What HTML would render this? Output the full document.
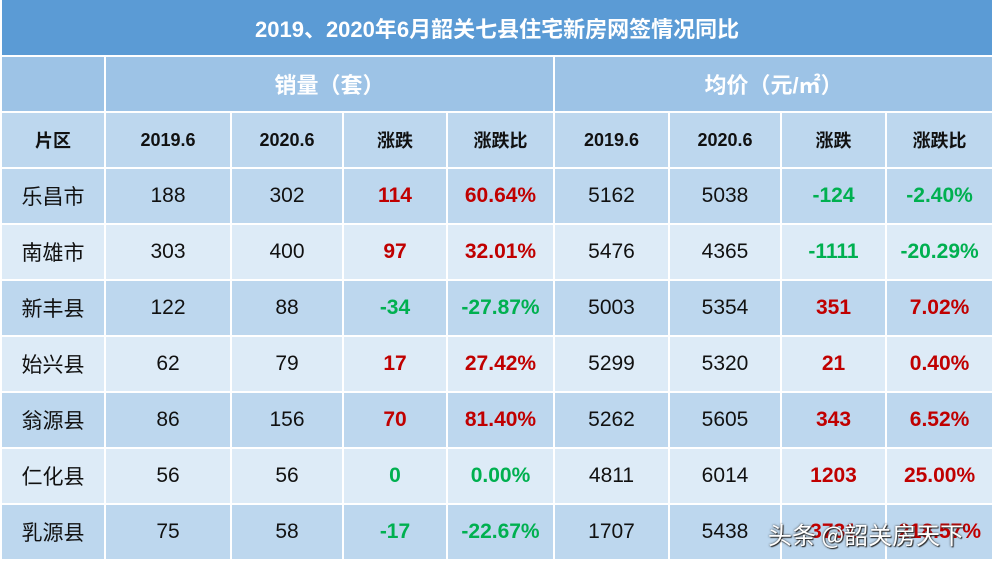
<!DOCTYPE html>
<html><head><meta charset="utf-8"><style>
body{margin:0;width:992px;height:561px;overflow:hidden;background:#fff;font-family:"Liberation Sans","Noto Sans CJK SC",sans-serif;}
table{border-collapse:collapse;table-layout:fixed;width:992px;position:absolute;left:0;top:0}
td{border:2px solid #fff;text-align:center;padding:0;font-size:21px;color:#111;height:54px}
.t td{background:#5b9bd5;color:#fff;font-weight:bold;font-size:22px;height:55px;border-top:0}
.s td{background:#9dc3e6;color:#fff;font-weight:bold;font-size:22px;height:54px}
.h td{background:#bdd7ee;font-weight:bold;font-size:18px;height:54px}
.a td{background:#bdd7ee}.b td{background:#ddebf7}
.r{color:#c00000;font-weight:bold}.g{color:#00b050;font-weight:bold}
.wm{position:absolute;left:768px;top:516px;font-size:24px;color:#fff;text-shadow:0 0 2px #333,1px 1px 1px #222;font-family:"Noto Sans CJK SC",sans-serif}
</style></head><body>
<table>
<colgroup><col style="width:104px"><col style="width:126px"><col style="width:112px"><col style="width:104px"><col style="width:107px"><col style="width:115px"><col style="width:112px"><col style="width:105px"><col style="width:107px"></colgroup>
<tr class="t"><td colspan="9">2019、2020年6月韶关七县住宅新房网签情况同比</td></tr>
<tr class="s"><td></td><td colspan="4">销量（套）</td><td colspan="4">均价（元/㎡）</td></tr>
<tr class="h"><td>片区</td><td>2019.6</td><td>2020.6</td><td>涨跌</td><td>涨跌比</td><td>2019.6</td><td>2020.6</td><td>涨跌</td><td>涨跌比</td></tr>
<tr class="a"><td>乐昌市</td><td>188</td><td>302</td><td class="r">114</td><td class="r">60.64%</td><td>5162</td><td>5038</td><td class="g">-124</td><td class="g">-2.40%</td></tr>
<tr class="b"><td>南雄市</td><td>303</td><td>400</td><td class="r">97</td><td class="r">32.01%</td><td>5476</td><td>4365</td><td class="g">-1111</td><td class="g">-20.29%</td></tr>
<tr class="a"><td>新丰县</td><td>122</td><td>88</td><td class="g">-34</td><td class="g">-27.87%</td><td>5003</td><td>5354</td><td class="r">351</td><td class="r">7.02%</td></tr>
<tr class="b"><td>始兴县</td><td>62</td><td>79</td><td class="r">17</td><td class="r">27.42%</td><td>5299</td><td>5320</td><td class="r">21</td><td class="r">0.40%</td></tr>
<tr class="a"><td>翁源县</td><td>86</td><td>156</td><td class="r">70</td><td class="r">81.40%</td><td>5262</td><td>5605</td><td class="r">343</td><td class="r">6.52%</td></tr>
<tr class="b"><td>仁化县</td><td>56</td><td>56</td><td class="g">0</td><td class="g">0.00%</td><td>4811</td><td>6014</td><td class="r">1203</td><td class="r">25.00%</td></tr>
<tr class="a"><td>乳源县</td><td>75</td><td>58</td><td class="g">-17</td><td class="g">-22.67%</td><td>1707</td><td>5438</td><td class="r">3731</td><td class="r">218.57%</td></tr>
</table>
<div class="wm">头条 @韶关房天下</div>
</body></html>
